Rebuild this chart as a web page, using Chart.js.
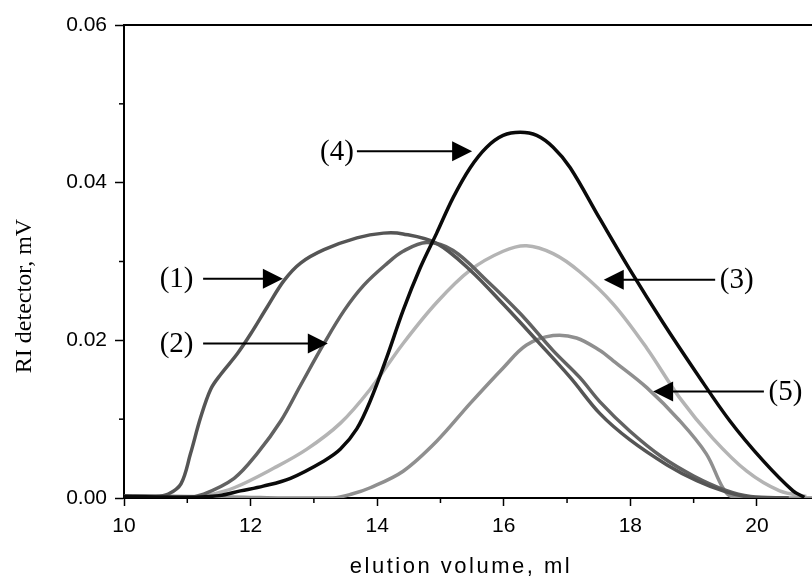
<!DOCTYPE html>
<html>
<head>
<meta charset="utf-8">
<script src="https://cdn.jsdelivr.net/npm/chart.js@4.4.0/dist/chart.umd.min.js"></script>
<style>
  html, body { margin: 0; padding: 0; background: #fff; }
  #wrap { width: 812px; height: 579px; position: relative; }
</style>
</head>
<body>
<div id="wrap"><canvas id="gpc"></canvas></div>
<script>
// elution curves (x = elution volume ml, y = RI signal mV)
const vol1 = [10, 10.5, 10.7, 10.9, 11.05, 11.21, 11.37, 11.53, 11.79, 12.0, 12.26, 12.53, 12.79, 13.16, 13.68, 14.1, 14.41, 14.94, 15.47, 15.99, 16.52, 17.05, 17.52, 17.99, 18.58, 19.05, 19.5, 19.9, 20.5];
const ri1  = [0.0003, 0.0002, 0.0005, 0.0018, 0.0056, 0.0102, 0.0138, 0.0157, 0.0183, 0.0208, 0.0242, 0.0276, 0.0298, 0.0315, 0.033, 0.0336, 0.0335, 0.0323, 0.0289, 0.0246, 0.020, 0.0153, 0.0107, 0.0074, 0.0042, 0.0022, 0.0008, 0.0001, 0];

const vol2 = [10, 11.0, 11.26, 11.74, 12.1, 12.48, 12.79, 13.16, 13.48, 13.79, 14.15, 14.41, 14.78, 15.2, 15.73, 16.26, 16.78, 17.2, 17.52, 17.99, 18.5, 19.0, 19.5, 19.9, 20.5];
const ri2  = [0.0002, 0.0001, 0.0005, 0.0025, 0.0056, 0.0098, 0.0143, 0.0196, 0.0238, 0.027, 0.0297, 0.0313, 0.0324, 0.0314, 0.0276, 0.0234, 0.0187, 0.0153, 0.0122, 0.0085, 0.0052, 0.0028, 0.001, 0.0002, 0];

const vol3 = [10, 10.5, 11.0, 11.3, 11.74, 12.37, 12.89, 13.42, 13.89, 14.41, 14.94, 15.47, 15.99, 16.36, 16.78, 17.2, 17.73, 18.26, 18.78, 19.3, 19.84, 20.36, 20.78];
const ri3  = [0.0003, 0.0002, 0.0, 0.0003, 0.0013, 0.0038, 0.0062, 0.0095, 0.0138, 0.0196, 0.0248, 0.0289, 0.0313, 0.032, 0.031, 0.0287, 0.0246, 0.019, 0.0127, 0.0076, 0.0034, 0.0009, 0.0002];

const vol4 = [10, 11.0, 11.5, 11.84, 12.2, 12.63, 13.16, 13.42, 13.68, 13.89, 14.15, 14.41, 14.68, 14.94, 15.2, 15.47, 15.73, 15.99, 16.26, 16.52, 16.78, 17.05, 17.52, 17.99, 18.52, 19.05, 19.57, 20.1, 20.57, 20.75];
const ri4  = [0.0002, 0.0001, 0.0003, 0.0009, 0.0015, 0.0025, 0.0047, 0.0062, 0.0088, 0.0123, 0.0178, 0.0238, 0.0292, 0.0336, 0.0381, 0.0419, 0.0445, 0.046, 0.0464, 0.046, 0.0445, 0.0419, 0.0354, 0.0290, 0.0222, 0.0158, 0.0098, 0.0047, 0.0009, 0.0001];

const vol5 = [10, 11.0, 11.9, 12.5, 13.3, 13.6, 13.89, 14.41, 14.94, 15.47, 15.99, 16.36, 16.78, 17.15, 17.52, 17.73, 18.26, 18.78, 19.2, 19.46, 19.6, 20.3, 20.87];
const ri5  = [0.0003, 0.0002, 0.0001, 0, 0, 0.0005, 0.0013, 0.0034, 0.0072, 0.012, 0.0165, 0.0194, 0.0206, 0.0203, 0.0187, 0.0174, 0.014, 0.0098, 0.0056, 0.0013, 0.0002, 0, 0];

// curve labels and where their arrows point (data coords)
const noteLabels = ['(1)', '(2)', '(3)', '(4)', '(5)'];
const noteTipX   = [12.51, 13.22, 17.58, 15.5, 18.36];
const noteTipY   = [0.0278, 0.0196, 0.0277, 0.0440, 0.0135];
const noteTailX  = [11.25, 11.25, 19.34, 13.68, 20.11];
const noteTextX  = [10.83, 10.83, 19.68, 13.365, 20.45];

const pts = (xs, ys) => xs.map((x, i) => ({ x: x, y: ys[i] }));

function curve(label, xs, ys, color) {
    return {
        label: label,
        data: pts(xs, ys),
        borderColor: color,
        borderWidth: 3.5,
        pointRadius: 0,
        fill: false,
        tension: 0.35
    };
}

const isOdd = (v, f) => Math.round(v * f) % 2 !== 0;

const extras = {
    id: 'extras',
    afterDraw(chart) {
        const c = chart.ctx;
        const xs = chart.scales.x, ys = chart.scales.y;
        const area = chart.chartArea;
        c.save();
        c.strokeStyle = '#000';
        c.lineWidth = 2;
        // top frame line
        c.beginPath();
        c.moveTo(area.left, area.top);
        c.lineTo(area.right, area.top);
        c.stroke();
        // minor ticks
        c.lineWidth = 1.5;
        for (let v = 11; v <= 21; v += 2) {
            const px = xs.getPixelForValue(v);
            if (px > area.right) break;
            c.beginPath();
            c.moveTo(px, area.bottom);
            c.lineTo(px, area.bottom + 5);
            c.stroke();
        }
        [0.01, 0.03, 0.05].forEach(v => {
            const py = ys.getPixelForValue(v);
            c.beginPath();
            c.moveTo(area.left, py);
            c.lineTo(area.left - 5, py);
            c.stroke();
        });

        // arrows + labels
        c.fillStyle = '#000';
        c.lineWidth = 2;
        c.font = '29px "Liberation Serif", "Times New Roman", serif';
        c.textAlign = 'center';
        c.textBaseline = 'middle';
        noteLabels.forEach((t, i) => {
            const tx = xs.getPixelForValue(noteTipX[i]);
            const ty = ys.getPixelForValue(noteTipY[i]);
            const sx = xs.getPixelForValue(noteTailX[i]);
            const dir = tx > sx ? 1 : -1;
            c.beginPath();
            c.moveTo(sx, ty);
            c.lineTo(tx - dir * 18, ty);
            c.stroke();
            c.beginPath();
            c.moveTo(tx, ty);
            c.lineTo(tx - dir * 20, ty - 10);
            c.lineTo(tx - dir * 20, ty + 10);
            c.closePath();
            c.fill();
            c.fillText(t, xs.getPixelForValue(noteTextX[i]), ty + 1);
        });

        // axis titles
        c.font = '22px "Liberation Sans", Arial, sans-serif';
        c.letterSpacing = '2.5px';
        c.fillText('elution volume, ml', 461, 567);
        c.letterSpacing = '0px';
        c.translate(25, 296);
        c.rotate(-Math.PI / 2);
        c.font = '24px "Liberation Serif", "Times New Roman", serif';
        c.fillText('RI detector, mV', 0, 0);
        c.restore();
    }
};

const tickFont = { family: '"Liberation Sans", Arial, sans-serif', size: 21 };

new Chart(document.getElementById('gpc'), {
    type: 'line',
    data: {
        datasets: [
            curve('(4)', vol4, ri4, '#0a0a0a'),
            curve('(1)', vol1, ri1, '#555555'),
            curve('(2)', vol2, ri2, '#626262'),
            curve('(5)', vol5, ri5, '#8f8f8f'),
            curve('(3)', vol3, ri3, '#b4b4b4')
        ]
    },
    options: {
        responsive: true,
        maintainAspectRatio: false,
        animation: false,
        layout: { padding: { top: 25, right: 0, left: 0, bottom: 0 } },
        plugins: {
            legend: { display: false },
            tooltip: { enabled: false }
        },
        scales: {
            x: {
                type: 'linear',
                min: 10,
                max: 20.87,
                afterFit(scale) { scale.height = 81; },
                border: { display: true, color: '#000', width: 2 },
                grid: {
                    drawOnChartArea: false,
                    tickLength: 8,
                    tickWidth: 1.5,
                    tickColor: ctx => isOdd(ctx.tick.value, 1) ? 'rgba(0,0,0,0)' : '#000'
                },
                ticks: {
                    stepSize: 1,
                    includeBounds: false,
                    maxRotation: 0,
                    autoSkip: false,
                    padding: 8,
                    color: '#000',
                    font: tickFont,
                    callback: v => isOdd(v, 1) ? '' : String(v)
                }
            },
            y: {
                min: 0,
                max: 0.06,
                afterFit(scale) { scale.width = 124; },
                border: { display: true, color: '#000', width: 2 },
                grid: {
                    drawOnChartArea: false,
                    tickLength: 9,
                    tickWidth: 1.5,
                    tickColor: ctx => isOdd(ctx.tick.value, 100) ? 'rgba(0,0,0,0)' : '#000'
                },
                ticks: {
                    stepSize: 0.01,
                    autoSkip: false,
                    padding: 8,
                    color: '#000',
                    font: tickFont,
                    callback: v => isOdd(v, 100) ? '' : v.toFixed(2)
                }
            }
        }
    },
    plugins: [extras]
});
</script>
</body>
</html>
